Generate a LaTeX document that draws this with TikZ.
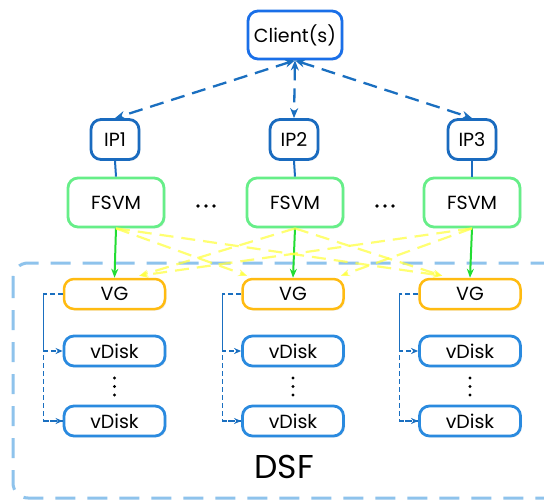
\documentclass[tikz,border=0pt]{standalone}
\usepackage{fontspec}
\setmainfont{Poppins}
\usetikzlibrary{arrows.meta,shadows,calc}
\definecolor{clientblue}{HTML}{1A6FE8}
\definecolor{ipblue}{HTML}{1A6BBF}
\definecolor{fsvmgreen}{HTML}{66EE88}
\definecolor{vgorange}{HTML}{FFBB11}
\definecolor{vdiskblue}{HTML}{2A8ADF}
\definecolor{dsfblue}{HTML}{8EC3EC}
\definecolor{arrowgreen}{HTML}{22DD33}
\definecolor{yellowline}{HTML}{FFFF44}
\definecolor{linkblue}{HTML}{1A6FC0}
\begin{document}
\begin{tikzpicture}[x=1pt,y=-1pt,
  boxbase/.style={draw, rounded corners=10pt, fill=white, line width=2.8pt,
    inner sep=0pt, font=\fontsize{19}{22}\selectfont,
    drop shadow={opacity=0.12, shadow xshift=1.5pt, shadow yshift=-1.5pt}},
  clientbox/.style={boxbase, draw=clientblue, minimum width=94pt, minimum height=48pt},
  ipbox/.style={boxbase, draw=ipblue, minimum width=48pt, minimum height=40pt},
  fsvmbox/.style={boxbase, draw=fsvmgreen, minimum width=96pt, minimum height=49pt},
  vgbox/.style={boxbase, draw=vgorange, line width=2.5pt, minimum width=101pt, minimum height=30pt},
  vdiskbox/.style={boxbase, draw=vdiskblue, minimum width=101pt, minimum height=30pt},
  clink/.style={draw=linkblue, line width=2.3pt, dash pattern=on 14pt off 8pt,
    {Stealth[length=10pt,width=8pt]}-{Stealth[length=10pt,width=8pt]}},
  iplink/.style={draw=ipblue, line width=2pt},
  glink/.style={draw=arrowgreen, line width=2pt, -{Stealth[length=9pt,width=7pt]}},
  ylink/.style={draw=yellowline, draw opacity=0.75, line width=2.2pt,
    dash pattern=on 14pt off 8pt, -{Stealth[length=9pt,width=7pt]}},
  vlink/.style={draw=linkblue, line width=1.2pt, dash pattern=on 5pt off 3pt},
  vlinkarrow/.style={vlink, -{Stealth[length=7pt,width=6pt]}},
  dotc/.style={circle, fill=black, inner sep=0pt, minimum size=3.6pt}
]
\clip (0,0) rectangle (544,500);
\fill[white] (0,0) rectangle (544,500);

% DSF container
\draw[dsfblue, line width=3pt, dash pattern=on 20pt off 12pt, rounded corners=15pt]
  (13,263) rectangle (560,498);
\node[font=\fontsize{33}{36}\selectfont] (dsf) at (284,467) {DSF};

% Client
\node[clientbox] (client) at (295,35) {Client(s)};

% IPs
\node[ipbox] (ip1) at (115,139.5) {IP1};
\node[ipbox] (ip2) at (294,139.5) {IP2};
\node[ipbox] (ip3) at (472,139.5) {IP3};

% FSVMs
\node[fsvmbox] (fsvm1) at (116,202.5) {FSVM};
\node[fsvmbox] (fsvm2) at (295,202.5) {FSVM};
\node[fsvmbox] (fsvm3) at (472,202.5) {FSVM};

% horizontal ellipses
\foreach \i/\x in {a/198,b/206,c/214} {\node[dotc] (hd1\i) at (\x,206) {};}
\foreach \i/\x in {a/377,b/385,c/393} {\node[dotc] (hd2\i) at (\x,206) {};}

% VG and vDisks
\foreach \n/\x in {1/114.5,2/293,3/470} {
  \node[vgbox] (vg\n) at (\x,294) {VG};
  \node[vdiskbox] (vda\n) at (\x,351) {vDisk};
  \node[vdiskbox] (vdb\n) at (\x,421) {vDisk};
  \node[dotc, minimum size=3.4pt] (vd\n a) at (\x,378) {};
  \node[dotc, minimum size=3.4pt] (vd\n b) at (\x,386.5) {};
  \node[dotc, minimum size=3.4pt] (vd\n c) at (\x,395) {};
  \coordinate (c\n) at ($(vg\n.west)+(-19,0)$);
  \draw[vlink] (vg\n.west) -- (c\n) |- (vdb\n.west);
  \draw[vlinkarrow] (c\n) |- (vda\n.west);
  \draw[vlinkarrow] ($(vdb\n.west)+(-19,0)$) -- (vdb\n.west);
}

% Client to IP links
\draw[clink] (client.south) -- (ip1.north);
\draw[clink] (client.south) -- (ip2.north);
\draw[clink] (client.south) -- (ip3.north);

% IP to FSVM
\draw[iplink] (ip1.south) -- (fsvm1.north);
\draw[iplink] (ip2.south) -- (fsvm2.north);
\draw[iplink] (ip3.south) -- (fsvm3.north);

% FSVM to own VG
\draw[glink] (fsvm1.south) -- (vg1.north);
\draw[glink] (fsvm2.south) -- (vg2.north);
\draw[glink] (fsvm3.south) -- (vg3.north);

% cross links
\coordinate (y1r) at ($(vg1.north east)+(-27,-2)$);
\coordinate (y2l) at ($(vg2.north west)+(6,-2)$);
\coordinate (y2r) at ($(vg2.north east)+(-4,-2)$);
\coordinate (y3l) at ($(vg3.north west)+(24,-2)$);
\draw[ylink] (fsvm1.south) -- (y2l);
\draw[ylink] (fsvm1.south) -- (y3l);
\draw[ylink] (fsvm2.south) -- (y1r);
\draw[ylink] (fsvm2.south) -- (y3l);
\draw[ylink] (fsvm3.south) -- (y1r);
\draw[ylink] (fsvm3.south) -- (y2r);
\end{tikzpicture}
\end{document}
